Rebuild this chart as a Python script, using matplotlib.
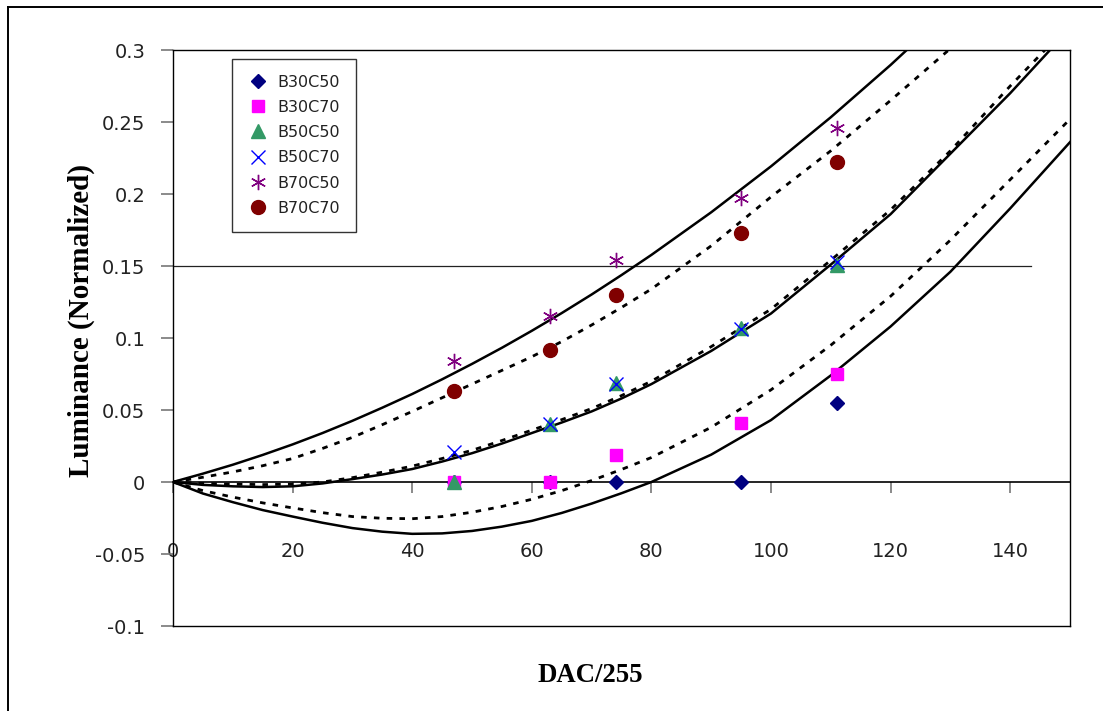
import numpy as np
import matplotlib
matplotlib.use("Agg")
import matplotlib.pyplot as plt
from matplotlib.lines import Line2D

# ---------------------------------------------------------------------------
# Data
# ---------------------------------------------------------------------------
DAC = [47, 63, 74, 95, 111]
B30C50 = [0.0, 0.0, 0.0, 0.0, 0.055]
B30C70 = [0.0, 0.0, 0.019, 0.041, 0.075]
B50C50 = [0.0, 0.040, 0.069, 0.107, 0.151]
B50C70 = [0.021, 0.040, 0.068, 0.106, 0.153]
B70C50 = [0.084, 0.115, 0.154, 0.197, 0.246]
B70C70 = [0.063, 0.092, 0.130, 0.173, 0.222]

# fitted curves
CURVE_X = [0, 5, 10, 15, 20, 25, 30, 35, 40, 45, 50, 55, 60, 65, 70, 75, 80, 90, 100,
           110, 120, 130, 140, 150]
TOP_SOLID = [0, 0.0058, 0.0120, 0.0188, 0.0261, 0.0340, 0.0425, 0.0516, 0.0611, 0.0713, 0.0820,
             0.0932, 0.1050, 0.1173, 0.1302, 0.1437, 0.1577, 0.1873, 0.2192, 0.2533, 0.2896,
             0.3281, 0.37, 0.41]
TOP_DOT = [0, 0.0033, 0.0070, 0.0113, 0.0163, 0.0233, 0.0310, 0.0398, 0.0490, 0.0585, 0.0680,
           0.0775, 0.0870, 0.0975, 0.1090, 0.1212, 0.1340, 0.1640, 0.1980, 0.2300, 0.2650,
           0.3010, 0.34, 0.38]
MID_SOLID = [0, -0.0020, -0.0030, -0.0035, -0.0030, -0.0010, 0.0020, 0.0052, 0.0090, 0.0142,
             0.0200, 0.0267, 0.0340, 0.0413, 0.0490, 0.0580, 0.0680, 0.0910, 0.1170, 0.1510,
             0.1860, 0.2280, 0.2700, 0.3150]
MID_DOT = [0, -0.0010, -0.0015, -0.0018, -0.0015, 0.0000, 0.0030, 0.0068, 0.0110, 0.0163,
           0.0220, 0.0288, 0.0360, 0.0433, 0.0510, 0.0600, 0.0700, 0.0940, 0.1200, 0.1540,
           0.1890, 0.2300, 0.2750, 0.3180]
BOT_SOLID = [0, -0.0080, -0.0140, -0.0195, -0.0240, -0.0283, -0.0320, -0.0345, -0.0360, -0.0357,
             -0.0340, -0.0310, -0.0270, -0.0215, -0.0150, -0.0078, 0.0000, 0.0190, 0.0430,
             0.0740, 0.1080, 0.1460, 0.1900, 0.2360]
BOT_DOT = [0, -0.0060, -0.0105, -0.0145, -0.0180, -0.0213, -0.0240, -0.0252, -0.0255, -0.0240,
           -0.0210, -0.0170, -0.0120, -0.0060, 0.0010, 0.0087, 0.0170, 0.0380, 0.0640, 0.0950,
           0.1290, 0.1680, 0.2100, 0.2520]

REF_LEVEL = 0.15
REF_END = 143.5

XTICKS = [0, 20, 40, 60, 80, 100, 120, 140]
YTICKS = [-0.1, -0.05, 0, 0.05, 0.1, 0.15, 0.2, 0.25, 0.3]
YTICK_LABELS = ["-0.1", "-0.05", "0", "0.05", "0.1", "0.15", "0.2", "0.25", "0.3"]

# ---------------------------------------------------------------------------
# Figure
# ---------------------------------------------------------------------------
plt.rcParams["font.family"] = ["DejaVu Sans"]

fig = plt.figure(figsize=(11.03, 7.11), dpi=100)
ax = fig.add_axes([173 / 1103, 1 - 626 / 711, 897 / 1103, 576 / 711])

# outer frame of the picture (left and top only)
fig.add_artist(Line2D([8 / 1103, 8 / 1103], [0, 1 - 7 / 711], color="black", lw=1.4))
fig.add_artist(Line2D([8 / 1103, 1], [1 - 7 / 711, 1 - 7 / 711], color="black", lw=1.4))

dot = (0, (2.0, 2.6))
ax.plot(CURVE_X, TOP_SOLID, color="black", lw=1.8, zorder=3)
ax.plot(CURVE_X, TOP_DOT, color="black", lw=2.0, linestyle=dot, zorder=3)
ax.plot(CURVE_X, MID_SOLID, color="black", lw=1.8, zorder=3)
ax.plot(CURVE_X, MID_DOT, color="black", lw=2.0, linestyle=dot, zorder=3)
ax.plot(CURVE_X, BOT_SOLID, color="black", lw=1.8, zorder=3)
ax.plot(CURVE_X, BOT_DOT, color="black", lw=2.0, linestyle=dot, zorder=3)

ax.plot([0, REF_END], [REF_LEVEL, REF_LEVEL], color="#222222", lw=0.9, zorder=2)
ax.axhline(-0.1, color="black", lw=1.0, clip_on=False)

ax.plot(DAC, B30C50, linestyle="none", marker="D", ms=7.5, color="#000080", label="B30C50", zorder=4)
ax.plot(DAC, B30C70, linestyle="none", marker="s", ms=9, color="#FF00FF", label="B30C70", zorder=4)
ax.plot(DAC, B50C50, linestyle="none", marker="^", ms=9.5, color="#339966", label="B50C50", zorder=4)
ax.plot(DAC, B50C70, linestyle="none", marker="x", ms=9.5, mew=1.0, color="#0000FF", label="B50C70", zorder=4)
ax.plot(DAC, B70C50, linestyle="none", marker=(6, 2, 0), ms=11, mew=1.0, color="#800080", label="B70C50", zorder=4)
ax.plot(DAC, B70C70, linestyle="none", marker="o", ms=10, color="#800000", label="B70C70", zorder=4)

ax.set_xlim(0, 150)
ax.set_ylim(-0.1, 0.3)

# x axis drawn at y = 0, like the spreadsheet chart
ax.spines["bottom"].set_position(("data", 0))
ax.spines["bottom"].set_linewidth(1.2)
for side in ["left", "top", "right"]:
    ax.spines[side].set_linewidth(1.0)

ax.set_xticks(XTICKS)
ax.set_yticks(YTICKS)
ax.set_yticklabels(YTICK_LABELS)
ax.tick_params(axis="x", direction="out", length=8, width=1.2, color="#777777",
               pad=35, labelsize=14, labelcolor="#222222")
ax.tick_params(axis="y", direction="out", length=9, width=1.2, color="#777777",
               pad=11, labelsize=14, labelcolor="#222222")

ax.set_xlabel("DAC/255", fontsize=19.3, fontweight="bold", family="Liberation Serif")
ax.set_ylabel("Luminance (Normalized)", fontsize=21, fontweight="bold", family="Liberation Serif")
ax.xaxis.set_label_coords(0.465, -0.064)
ax.yaxis.set_label_coords(-0.087, 0.53)

leg = ax.legend(loc="upper left", bbox_to_anchor=(0.066, 0.985), fontsize=11.5,
                frameon=True, fancybox=False, borderpad=1.0, labelspacing=0.64,
                handletextpad=0.6, handlelength=1.2, borderaxespad=0)
leg.get_frame().set_edgecolor("black")
leg.get_frame().set_linewidth(1.0)
for t in leg.get_texts():
    t.set_color("#222222")

fig.savefig("out.png", dpi=100)
